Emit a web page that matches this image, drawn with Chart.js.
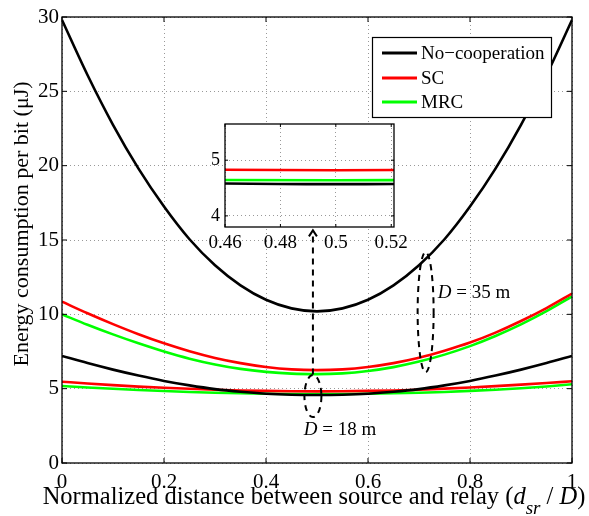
<!DOCTYPE html>
<html>
<head>
<meta charset="utf-8">
<script src="https://cdn.jsdelivr.net/npm/chart.js@4.4.1/dist/chart.umd.min.js"></script>
<style>
  body { margin: 0; background: #fff; }
  #wrap { position: relative; width: 589px; height: 516px; }
  #mainChart { position: absolute; left: 0; top: 0; }
  #insetChart { position: absolute; left: 195px; top: 98px; }
</style>
</head>
<body>
<div id="wrap">
  <canvas id="mainChart" width="589" height="516"></canvas>
  <canvas id="insetChart" width="230" height="157"></canvas>
</div>
<script>
// normalized source-relay distance d_sr / D
var xValues = [0, 0.05, 0.1, 0.15, 0.2, 0.25, 0.3, 0.35, 0.4, 0.45, 0.5, 0.55, 0.6, 0.65, 0.7, 0.75, 0.8, 0.85, 0.9, 0.95, 1];

// D = 35 m
var noCoop35 = [29.8, 26.1, 22.75, 19.8, 17.25, 15.05, 13.3, 11.95, 10.98, 10.4, 10.2, 10.4, 10.98, 11.95, 13.3, 15.05, 17.25, 19.8, 22.75, 26.1, 29.8];
var sc35     = [10.85, 10.07, 9.34, 8.66, 8.05, 7.52, 7.07, 6.72, 6.46, 6.3, 6.25, 6.3, 6.46, 6.72, 7.08, 7.55, 8.1, 8.77, 9.55, 10.42, 11.4];
var mrc35    = [10.0, 9.3, 8.65, 8.05, 7.5, 7.02, 6.63, 6.33, 6.13, 6.01, 5.98, 6.03, 6.19, 6.45, 6.82, 7.29, 7.86, 8.54, 9.32, 10.21, 11.2];

// D = 18 m
var noCoop18 = [7.2, 6.72, 6.28, 5.88, 5.52, 5.22, 4.97, 4.79, 4.66, 4.59, 4.57, 4.59, 4.66, 4.79, 4.97, 5.22, 5.52, 5.88, 6.28, 6.72, 7.2];
var sc18     = [5.47, 5.35, 5.24, 5.14, 5.06, 4.99, 4.93, 4.88, 4.85, 4.83, 4.82, 4.83, 4.85, 4.88, 4.93, 5.0, 5.08, 5.17, 5.27, 5.38, 5.5];
var mrc18    = [5.18, 5.08, 4.99, 4.91, 4.84, 4.78, 4.73, 4.69, 4.66, 4.645, 4.64, 4.645, 4.66, 4.69, 4.73, 4.78, 4.85, 4.93, 5.03, 5.15, 5.3];

var seriesNames = ['No\u2212cooperation', 'SC', 'MRC'];
var seriesColors = ['#000000', '#ff0000', '#00ff00'];

var xTicks = [0, 0.2, 0.4, 0.6, 0.8, 1];
var yTicks = [0, 5, 10, 15, 20, 25, 30];
var insetXTicks = [0.46, 0.48, 0.5, 0.52];
var insetYTicks = [4, 5];

var FONT = '"Liberation Serif", "Times New Roman", serif';

function toPoints(arr) {
    return xValues.map(function(x, i) { return { x: x, y: arr[i] }; });
}

function makeSet(arr, idx) {
    return {
        label: seriesNames[idx],
        data: toPoints(arr),
        borderColor: seriesColors[idx],
        backgroundColor: seriesColors[idx],
        borderWidth: 2.6,
        pointRadius: 0,
        fill: false,
        cubicInterpolationMode: 'monotone'
    };
}

function plainLabel(v) { return String(v); }

// frame + inward tick marks like matlab
function drawFrame(chart, xt, yt, len) {
    var ctx = chart.ctx, a = chart.chartArea;
    var xs = chart.scales.x, ys = chart.scales.y;
    ctx.save();
    ctx.strokeStyle = '#000';
    ctx.lineWidth = 1.3;
    ctx.setLineDash([]);
    ctx.strokeRect(a.left, a.top, a.right - a.left, a.bottom - a.top);
    ctx.lineWidth = 1;
    xt.forEach(function(v) {
        var p = xs.getPixelForValue(v);
        ctx.beginPath();
        ctx.moveTo(p, a.bottom); ctx.lineTo(p, a.bottom - len);
        ctx.moveTo(p, a.top); ctx.lineTo(p, a.top + len);
        ctx.stroke();
    });
    yt.forEach(function(v) {
        var p = ys.getPixelForValue(v);
        ctx.beginPath();
        ctx.moveTo(a.left, p); ctx.lineTo(a.left + len, p);
        ctx.moveTo(a.right, p); ctx.lineTo(a.right - len, p);
        ctx.stroke();
    });
    ctx.restore();
}

var gridOpts = { color: 'rgba(0,0,0,0.4)', lineWidth: 1, drawTicks: false };
var borderOpts = { display: false, dash: [1, 3] };

var mainPlugin = {
    id: 'mainDecor',
    afterDatasetsDraw: function(chart) {
        var ctx = chart.ctx;
        var xs = chart.scales.x, ys = chart.scales.y;
        ctx.save();
        ctx.strokeStyle = '#000';
        ctx.lineWidth = 2;
        ctx.setLineDash([6, 5]);

        // dashed ellipse around D = 18 m curves
        ctx.beginPath();
        ctx.ellipse(xs.getPixelForValue(0.492), ys.getPixelForValue(4.5), 8.5, 21, 0, 0, Math.PI * 2);
        ctx.stroke();

        // dashed ellipse around D = 35 m curves
        ctx.beginPath();
        ctx.ellipse(xs.getPixelForValue(0.713), ys.getPixelForValue(10.15), 8, 60, 0, 0, Math.PI * 2);
        ctx.stroke();

        // dashed arrow up to the inset
        var ax = xs.getPixelForValue(0.492);
        var y0 = ys.getPixelForValue(5.95), y1 = ys.getPixelForValue(15.65);
        ctx.beginPath();
        ctx.moveTo(ax, y0); ctx.lineTo(ax, y1 + 2);
        ctx.stroke();
        ctx.setLineDash([]);
        ctx.beginPath();
        ctx.moveTo(ax - 4, y1 + 6); ctx.lineTo(ax, y1); ctx.lineTo(ax + 4, y1 + 6);
        ctx.stroke();

        // labels
        ctx.fillStyle = '#000';
        ctx.textBaseline = 'middle';
        ctx.textAlign = 'left';
        function dLabel(txt, xv, yv) {
            var px = xs.getPixelForValue(xv), py = ys.getPixelForValue(yv);
            ctx.font = 'italic 19px ' + FONT;
            ctx.fillText('D', px, py);
            var w = ctx.measureText('D').width;
            ctx.font = '19px ' + FONT;
            ctx.fillText(txt, px + w, py);
        }
        dLabel(' = 35 m', 0.737, 11.43);
        dLabel(' = 18 m', 0.474, 2.2);
        ctx.restore();
    },
    afterDraw: function(chart) {
        var ctx = chart.ctx;
        drawFrame(chart, xTicks, yTicks, 5);

        // legend box
        ctx.save();
        ctx.fillStyle = '#fff';
        ctx.fillRect(372, 37, 180, 80);
        ctx.strokeStyle = '#000';
        ctx.lineWidth = 1.2;
        ctx.strokeRect(372.5, 37.5, 179, 80);
        ctx.font = '19px ' + FONT;
        ctx.textBaseline = 'middle';
        ctx.textAlign = 'left';
        var rows = [53, 78, 102];
        seriesNames.forEach(function(name, i) {
            ctx.strokeStyle = seriesColors[i];
            ctx.lineWidth = 2.8;
            ctx.beginPath();
            ctx.moveTo(382, rows[i]); ctx.lineTo(417, rows[i]);
            ctx.stroke();
            ctx.fillStyle = '#000';
            ctx.fillText(name, 421, rows[i] + 1);
        });

        // y axis title
        ctx.save();
        ctx.translate(22, 224);
        ctx.rotate(-Math.PI / 2);
        ctx.font = '22px ' + FONT;
        ctx.textAlign = 'center';
        ctx.textBaseline = 'middle';
        ctx.fillText('Energy consumption per bit (\u03bcJ)', 0, 0);
        ctx.restore();

        // x axis title with subscript
        var parts = [
            { t: 'Normalized distance between source and relay (', f: '24.5px ', dy: 0 },
            { t: 'd', f: 'italic 24.5px ', dy: 0 },
            { t: 'sr', f: 'italic 19px ', dy: 11 },
            { t: ' / ', f: '24.5px ', dy: 0 },
            { t: 'D', f: 'italic 24.5px ', dy: 0 },
            { t: ')', f: '24.5px ', dy: 0 }
        ];
        var total = 0;
        parts.forEach(function(p) { ctx.font = p.f + FONT; p.w = ctx.measureText(p.t).width; total += p.w; });
        var x = 314 - total / 2;
        ctx.textAlign = 'left';
        ctx.textBaseline = 'middle';
        parts.forEach(function(p) {
            ctx.font = p.f + FONT;
            ctx.fillText(p.t, x, 498 + p.dy);
            x += p.w;
        });
        ctx.restore();
    }
};

new Chart(document.getElementById('mainChart'), {
    type: 'line',
    data: {
        datasets: [
            makeSet(noCoop35, 0), makeSet(sc35, 1), makeSet(mrc35, 2),
            makeSet(noCoop18, 0), makeSet(sc18, 1), makeSet(mrc18, 2)
        ]
    },
    options: {
        responsive: false,
        animation: false,
        devicePixelRatio: 1,
        layout: { padding: { top: 17, right: 17, left: 0, bottom: 0 } },
        plugins: { legend: { display: false }, tooltip: { enabled: false } },
        scales: {
            x: {
                type: 'linear', min: 0, max: 1,
                afterBuildTicks: function(s) { s.ticks = xTicks.map(function(v) { return { value: v }; }); },
                ticks: { font: { family: FONT, size: 21 }, color: '#000', padding: 7, maxRotation: 0,
                         callback: plainLabel },
                grid: gridOpts, border: borderOpts,
                afterFit: function(s) { s.height = 53; }
            },
            y: {
                type: 'linear', min: 0, max: 30,
                afterBuildTicks: function(s) { s.ticks = yTicks.map(function(v) { return { value: v }; }); },
                ticks: { font: { family: FONT, size: 21 }, color: '#000', padding: 3, callback: plainLabel },
                grid: gridOpts, border: borderOpts,
                afterFit: function(s) { s.width = 62; }
            }
        }
    },
    plugins: [mainPlugin]
});

var insetPlugin = {
    id: 'insetDecor',
    beforeDraw: function(chart) {
        var a = chart.chartArea;
        chart.ctx.save();
        chart.ctx.fillStyle = '#fff';
        chart.ctx.fillRect(a.left, a.top, a.right - a.left, a.bottom - a.top);
        chart.ctx.restore();
    },
    afterDraw: function(chart) {
        drawFrame(chart, insetXTicks, insetYTicks, 3);
    }
};

new Chart(document.getElementById('insetChart'), {
    type: 'line',
    data: {
        datasets: [makeSet(noCoop18, 0), makeSet(sc18, 1), makeSet(mrc18, 2)]
    },
    options: {
        responsive: false,
        animation: false,
        devicePixelRatio: 1,
        layout: { padding: { top: 26, right: 31, left: 0, bottom: 0 } },
        plugins: { legend: { display: false }, tooltip: { enabled: false } },
        scales: {
            x: {
                type: 'linear', min: 0.46, max: 0.521,
                afterBuildTicks: function(s) { s.ticks = insetXTicks.map(function(v) { return { value: v }; }); },
                ticks: { font: { family: FONT, size: 19 }, color: '#000', padding: 5, maxRotation: 0,
                         callback: plainLabel },
                grid: gridOpts, border: borderOpts,
                afterFit: function(s) { s.height = 28; }
            },
            y: {
                type: 'linear', min: 3.8, max: 5.65,
                afterBuildTicks: function(s) { s.ticks = insetYTicks.map(function(v) { return { value: v }; }); },
                ticks: { font: { family: FONT, size: 18 }, color: '#000', padding: 5, callback: plainLabel },
                grid: gridOpts, border: borderOpts,
                afterFit: function(s) { s.width = 30; }
            }
        }
    },
    plugins: [insetPlugin]
});
</script>
</body>
</html>
